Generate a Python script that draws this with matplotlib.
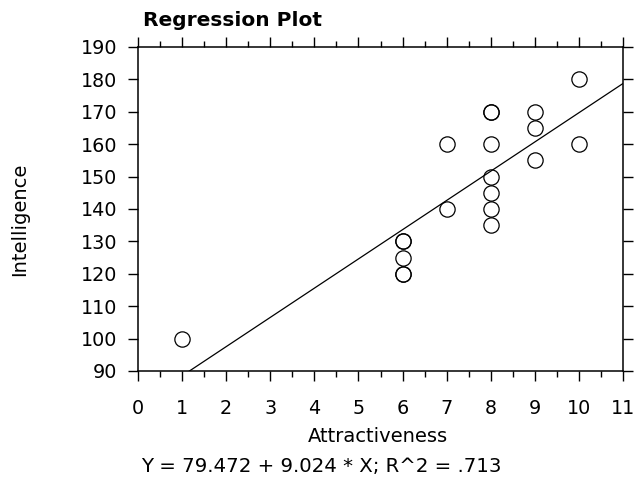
import matplotlib
matplotlib.use("Agg")
import matplotlib.pyplot as plt
from matplotlib.ticker import MultipleLocator
import numpy as np

attractiveness = [1, 6, 6, 6, 6, 6, 7, 7, 8, 8, 8, 8, 8, 8, 8, 9, 9, 9, 10, 10]
intelligence = [100, 120, 120, 125, 130, 130, 140, 160, 135, 140, 145, 150, 160, 170, 170,
                155, 165, 170, 160, 180]
intercept = 79.472
slope = 9.024
r2 = ".713"

plt.rcParams['font.family'] = ['DejaVu Sans']
W, H = 636, 479
fig = plt.figure(figsize=(6.36, 4.79), dpi=100)
L, R, T, B = 138, 623, 47, 371
ax = fig.add_axes([L/W, 1 - B/H, (R-L)/W, (B-T)/H])

ax.plot(attractiveness, intelligence, 'o', mfc='none', mec='black', ms=11, mew=0.9,
        linestyle='none', clip_on=False)
xs = np.array([0, 11])
ax.plot(xs, intercept + slope * xs, color='black', lw=0.9)

ax.set_xlim(0, 11)
ax.set_ylim(90, 190)
ax.xaxis.set_major_locator(MultipleLocator(1))
ax.xaxis.set_minor_locator(MultipleLocator(0.5))
ax.yaxis.set_major_locator(MultipleLocator(10))
ax.tick_params(axis='both', which='major', direction='out', length=7, width=1,
               labelsize=13.8, top=True, right=True)
ax.tick_params(axis='x', which='minor', direction='out', length=4, width=1,
               top=True, bottom=True)
ax.tick_params(axis='x', which='major', pad=13)
ax.tick_params(axis='y', which='major', pad=8)
for s in ax.spines.values():
    s.set_linewidth(1.1)

ax.set_xlabel('Attractiveness', fontsize=14, va='center', ha='center')
ax.xaxis.set_label_coords((378 - L) / (R - L), (B - 437) / (B - T))
ax.set_ylabel('Intelligence', fontsize=14, va='center', ha='center')
ax.yaxis.set_label_coords((20 - L) / (R - L), (B - 219) / (B - T))
fig.text(143/W, 1 - 20/H, 'Regression Plot', fontsize=14.5, fontweight='semibold',
         ha='left', va='center')
fig.text(321/W, 1 - 467/H, f'Y = {intercept} + {slope} * X; R^2 = {r2}',
         fontsize=14.2, ha='center', va='center')

fig.savefig('out.png', dpi=100)
